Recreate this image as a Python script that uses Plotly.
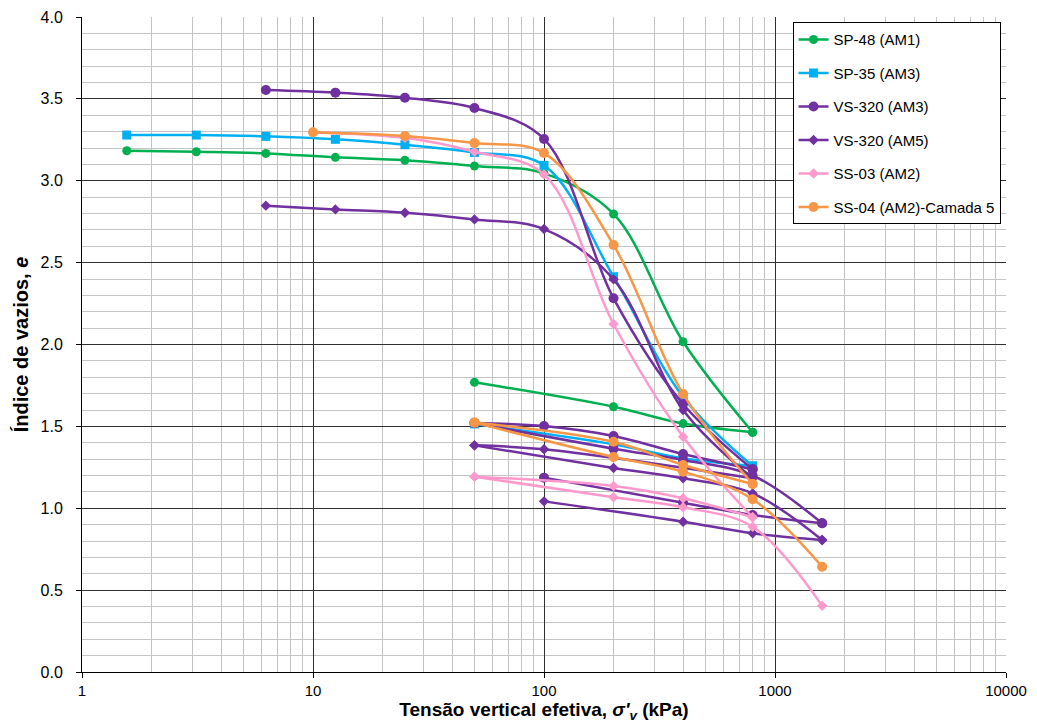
import plotly.graph_objects as go

# ---- data (stress in kPa, void ratio e) ----
sp48_x = [1.5625, 3.125, 6.25, 12.5, 25, 50, 100, 200, 400, 800, 400, 200, 50]
sp48_e = [3.183, 3.177, 3.167, 3.143, 3.125, 3.090, 3.045, 2.797, 2.017, 1.464, 1.517, 1.620, 1.769]

sp35_x = [1.5625, 3.125, 6.25, 12.5, 25, 50, 100, 200, 400, 800, 400, 200, 50]
sp35_e = [3.279, 3.279, 3.271, 3.253, 3.220, 3.173, 3.094, 2.414, 1.680, 1.258, 1.305, 1.390, 1.515]

vs320a_x = [6.25, 12.5, 25, 50, 100, 200, 400, 800, 400, 200, 100, 50, 200, 400, 800, 1600, 800, 400, 100]
vs320a_e = [3.554, 3.538, 3.507, 3.444, 3.255, 2.282, 1.637, 1.238, 1.331, 1.441, 1.502, 1.520,
            1.364, 1.295, 1.200, 0.908, 0.959, 1.034, 1.187]

vs320b_x = [6.25, 12.5, 25, 50, 100, 200, 400, 800, 100, 50, 200, 400, 800, 1600, 800, 400, 100]
vs320b_e = [2.848, 2.825, 2.805, 2.764, 2.705, 2.398, 1.600, 1.183, 1.360, 1.384,
            1.246, 1.183, 1.091, 0.806, 0.847, 0.918, 1.042]

ss03_x = [10, 25, 50, 100, 200, 400, 800, 400, 200, 50, 200, 400, 800, 1600]
ss03_e = [3.295, 3.262, 3.177, 3.039, 2.125, 1.437, 0.945, 1.061, 1.136, 1.193, 1.067, 1.006, 0.887, 0.405]

ss04_x = [10, 25, 50, 100, 200, 400, 800, 400, 200, 50, 200, 400, 800, 1600]
ss04_e = [3.296, 3.273, 3.230, 3.169, 2.608, 1.698, 1.148, 1.264, 1.406, 1.523, 1.313, 1.223, 1.055, 0.643]

names = ["SP-48 (AM1)", "SP-35 (AM3)", "VS-320 (AM3)", "VS-320 (AM5)", "SS-03 (AM2)", "SS-04 (AM2)-Camada 5"]
colors = ["#00B050", "#00B0F0", "#7030A0", "#7030A0", "#FF99CC", "#F79646"]
symbols = ["circle", "square", "circle", "diamond", "diamond", "circle"]
msizes = [9, 9, 10, 8, 8, 10]
xs = [sp48_x, sp35_x, vs320a_x, vs320b_x, ss03_x, ss04_x]
es = [sp48_e, sp35_e, vs320a_e, vs320b_e, ss03_e, ss04_e]

x_tick_vals = [1, 10, 100, 1000, 10000]
x_tick_text = ["1", "10", "100", "1000", "10000"]


def branches(x, y):
    """Split a load/unload path into monotonic branches (sharing turning points)."""
    segs = []
    start = 0
    for k in range(1, len(x) - 1):
        if (x[k] - x[k - 1]) * (x[k + 1] - x[k]) < 0:
            segs.append((x[start:k + 1], y[start:k + 1]))
            start = k
    segs.append((x[start:], y[start:]))
    return segs


fig = go.Figure()
for i in range(len(names)):
    for j, (bx, by) in enumerate(branches(xs[i], es[i])):
        fig.add_trace(go.Scatter(
            x=bx, y=by, name=names[i], mode="lines+markers",
            legendgroup=str(i), showlegend=(j == 0),
            line=dict(color=colors[i], width=2.5, shape="spline", smoothing=1.0),
            marker=dict(symbol=symbols[i], size=msizes[i], color=colors[i]),
        ))

base_font = "Liberation Sans, Arial, sans-serif"

# page body has an 8px margin: figure is offset by (8, 8) in the window
fig.update_layout(
    width=1029, height=718,
    margin=dict(l=74, r=31, t=9, b=54, autoexpand=False),
    paper_bgcolor="white", plot_bgcolor="white",
    font=dict(family=base_font, color="black", size=13),
    showlegend=True,
    legend=dict(
        x=0.769, y=0.992, xanchor="left", yanchor="top",
        bgcolor="white", bordercolor="black", borderwidth=1,
        font=dict(family=base_font, size=15, color="black"),
        tracegroupgap=11, itemwidth=30,
    ),
    xaxis=dict(
        type="log", range=[0, 4],
        tickvals=x_tick_vals, ticktext=x_tick_text,
        showgrid=True, gridcolor="#303030", gridwidth=1,
        minor=dict(dtick="D1", showgrid=True, gridcolor="#c4c4c4", gridwidth=1),
        showline=True, linecolor="black", linewidth=1,
        ticks="outside", ticklen=5, tickcolor="black",
        tickfont=dict(family=base_font, size=15),
        zeroline=False,
        title=dict(text="<b>Tensão vertical efetiva, <i>σ'<sub>v</sub></i> (kPa)</b>",
                   font=dict(family=base_font, size=19), standoff=3),
    ),
    yaxis=dict(
        range=[0, 4], dtick=0.5, tickformat=".1f",
        showgrid=True, gridcolor="#303030", gridwidth=1,
        minor=dict(dtick=0.1, showgrid=True, gridcolor="#c4c4c4", gridwidth=1),
        showline=True, linecolor="black", linewidth=1,
        ticks="outside", ticklen=5, tickcolor="black",
        tickfont=dict(family=base_font, size=16),
        ticklabelstandoff=10,
        zeroline=False,
        title=dict(text="<b>Índice de vazios, <i>e</i></b>",
                   font=dict(family=base_font, size=20), standoff=6),
    ),
)

fig.write_html("out.html")
